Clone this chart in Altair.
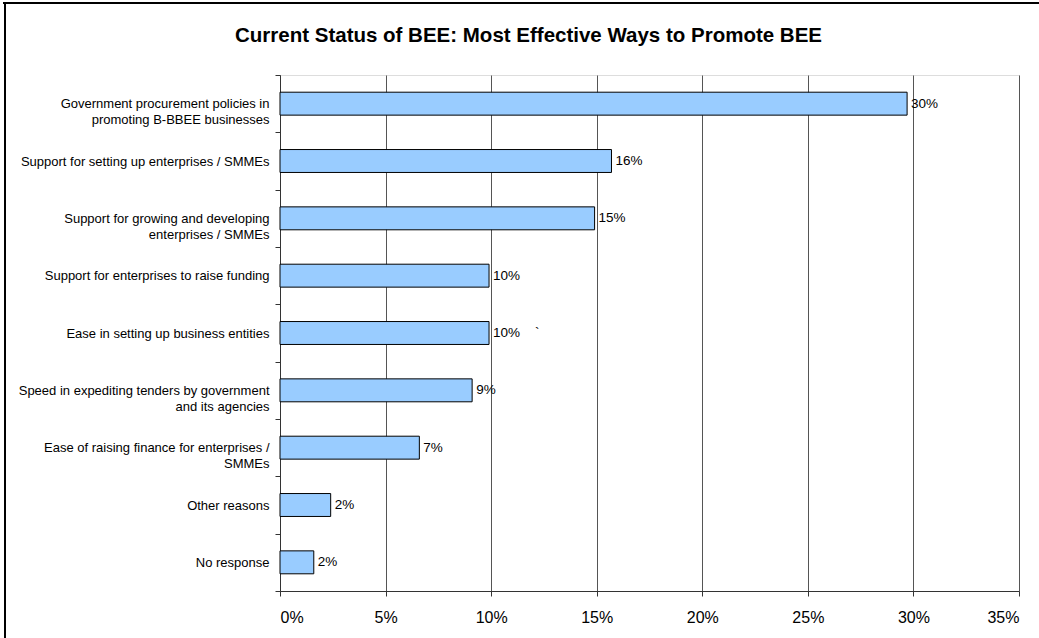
import altair as alt
import pandas as pd

categories = [
    "Government procurement policies in|promoting B-BBEE businesses",
    "Support for setting up enterprises / SMMEs",
    "Support for growing and developing|enterprises / SMMEs",
    "Support for enterprises to raise funding",
    "Ease in setting up business entities",
    "Speed in expediting tenders by government|and its agencies",
    "Ease of raising finance for enterprises /|SMMEs",
    "Other reasons",
    "No response",
]
values = [0.297, 0.157, 0.149, 0.099, 0.099, 0.091, 0.066, 0.024, 0.016]
value_labels = ["30%", "16%", "15%", "10%", "10%\u00a0\u00a0\u00a0\u00a0`", "9%", "7%", "2%", "2%"]
x_ticks = [0.0, 0.05, 0.10, 0.15, 0.20, 0.25, 0.30, 0.35]

FONT = "Liberation Sans"

df = pd.DataFrame({"cat": categories, "value": values, "label": value_labels})

y_enc = alt.Y(
    "cat:N",
    sort=categories,
    title=None,
    scale=alt.Scale(paddingInner=0, paddingOuter=0),
    axis=alt.Axis(
        labelExpr="split(datum.label, '|')",
        labelFontSize=13,
        labelFont=FONT,
        labelColor="black",
        labelLineHeight=16,
        labelLimit=400,
        tickBand="extent",
        tickSize=5,
        labelPadding=6,
        domainColor="#333333",
        tickColor="#333333",
        grid=False,
    ),
)

x_enc = alt.X(
    "value:Q",
    title=None,
    scale=alt.Scale(domain=[0, 0.35], nice=False, zero=True),
    axis=alt.Axis(
        values=x_ticks,
        format=".0%",
        grid=True,
        gridColor="#555555",
        gridOpacity=1,
        labelFontSize=16,
        labelFont=FONT,
        labelColor="black",
        labelPadding=13,
        tickSize=5,
        tickColor="#333333",
        domainColor="#333333",
    ),
)

bars = alt.Chart(df).mark_bar(
    fill="#99CCFF", stroke="black", strokeWidth=1, height=alt.RelativeBandSize(0.4)
).encode(x=x_enc, y=y_enc)

texts = alt.Chart(df).mark_text(
    align="left", baseline="middle", dx=4, fontSize=13.5, font=FONT, color="black"
).encode(
    x=alt.X("value:Q"),
    y=alt.Y("cat:N", sort=categories),
    text="label:N",
)

dummy = pd.DataFrame({"d": [0]})
top_border = alt.Chart(dummy).mark_rule(color="black", strokeWidth=2).encode(
    x=alt.value(-277), x2=alt.value(760), y=alt.value(-72)
)
left_border = alt.Chart(dummy).mark_rule(color="black", strokeWidth=2).encode(
    x=alt.value(-275), y=alt.value(-73), y2=alt.value(564)
)

chart = (
    alt.layer(bars, texts, top_border, left_border)
    .properties(
        width=739,
        height=516,
        padding={"left": 280, "top": 75, "right": 20, "bottom": 47},
        autosize=alt.AutoSizeParams(type="none"),
        title=alt.Title(
            "Current Status of BEE: Most Effective Ways to Promote BEE",
            font=FONT,
            fontSize=20.5,
            fontWeight="bold",
            color="black",
            anchor="middle",
            frame="group",
            dx=-121,
            offset=-55,
            baseline="middle",
        ),
    )
    .configure_view(stroke="#999999", strokeWidth=1)
    .configure(background="white")
)

chart.save("out.html", embed_options={"renderer": "svg", "actions": False})
